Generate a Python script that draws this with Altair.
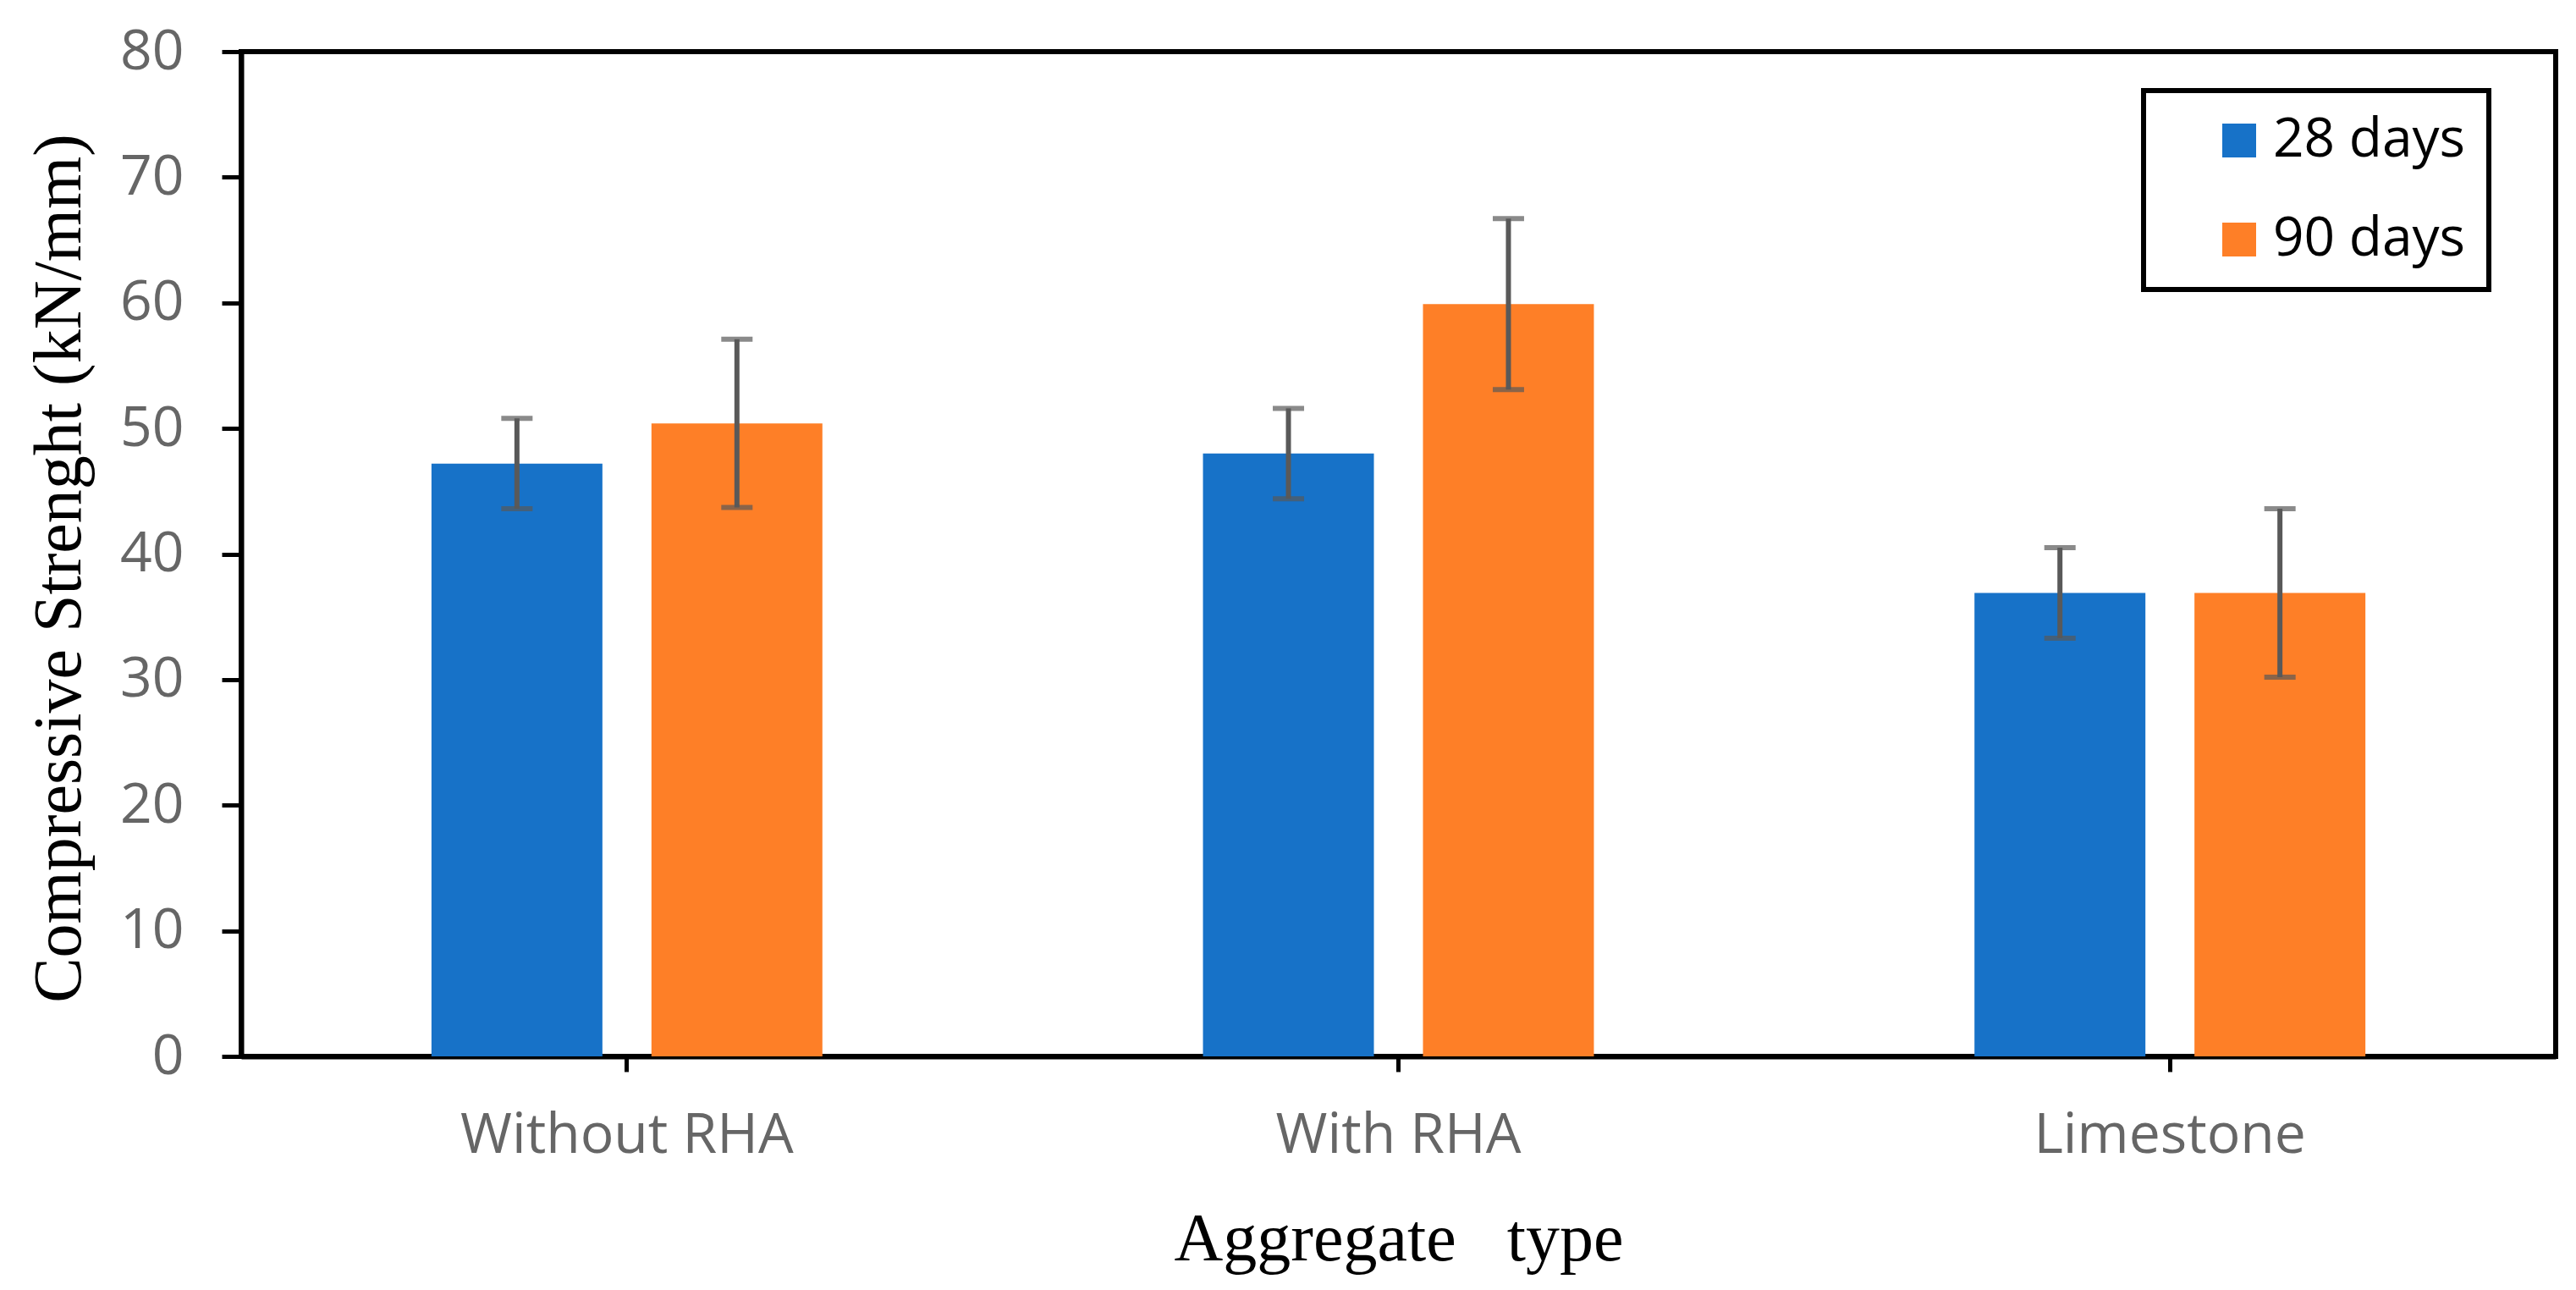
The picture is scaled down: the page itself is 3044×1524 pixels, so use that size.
import altair as alt
import pandas as pd

categories = ["Without RHA", "With RHA", "Limestone"]
series = ["28 days", "90 days"]
mean_28 = [47.2, 48.0, 36.9]
mean_90 = [50.4, 59.9, 36.9]
err_28 = [3.6, 3.6, 3.6]
err_90 = [6.7, 6.8, 6.7]
y_ticks = [0, 10, 20, 30, 40, 50, 60, 70, 80]
colors = ["#1772c8", "#fe7f27"]

rows = []
for i, c in enumerate(categories):
    rows.append({"cat": c, "series": series[0], "val": mean_28[i], "lo": mean_28[i] - err_28[i], "hi": mean_28[i] + err_28[i]})
    rows.append({"cat": c, "series": series[1], "val": mean_90[i], "lo": mean_90[i] - err_90[i], "hi": mean_90[i] + err_90[i]})
df = pd.DataFrame(rows)

LABEL_GRAY = "#666666"

x_enc = alt.X(
    "cat:N",
    sort=categories,
    scale=alt.Scale(paddingInner=0, paddingOuter=0),
    axis=alt.Axis(
        title="Aggregate\u00a0\u00a0\u00a0type",
        titleFont="Liberation Serif",
        titleFontSize=80,
        titleFontWeight="normal",
        titleColor="black",
        titleBaseline="alphabetic",
        titleY=240,
        labelFont="Open Sans",
        labelFontSize=66,
        labelColor=LABEL_GRAY,
        labelAngle=0,
        labelLimit=0,
        labelBaseline="alphabetic",
        labelPadding=95,
        domainColor="black",
        domainWidth=6,
        tickColor="black",
        tickWidth=5,
        tickSize=18,
        grid=False,
    ),
)
xoff = alt.XOffset("series:N", sort=series, scale=alt.Scale(paddingInner=0.223, paddingOuter=0.865))
y_scale = alt.Scale(domain=[0, 80], nice=False)

bars = alt.Chart(df).mark_bar().encode(
    x=x_enc,
    xOffset=xoff,
    y=alt.Y(
        "val:Q",
        scale=y_scale,
        axis=alt.Axis(
            values=y_ticks,
            title="Compressive Strenght (kN/mm)",
            titleFont="Liberation Serif",
            titleFontSize=80,
            titleFontWeight="normal",
            titleColor="black",
            titleAngle=-90,
            titleBaseline="middle",
            titleX=-215,
            titleY=610,
            labelFont="Open Sans",
            labelFontSize=66,
            labelColor=LABEL_GRAY,
            labelPadding=45,
            domainColor="black",
            domainWidth=6,
            tickColor="black",
            tickWidth=5,
            tickSize=23,
            grid=False,
        ),
    ),
    color=alt.Color(
        "series:N",
        sort=series,
        scale=alt.Scale(domain=series, range=colors),
        legend=alt.Legend(
            title=None,
            orient="none",
            legendX=2248,
            legendY=46,
            strokeColor="black",
            fillColor="white",
            padding=27,
            symbolType="square",
            symbolSize=1600,
            symbolStrokeWidth=0,
            symbolOffset=54,
            labelOffset=8,
            labelFont="Open Sans",
            labelFontSize=64,
            labelColor="black",
            labelLimit=600,
        ),
    ),
)

err_rule = alt.Chart(df).mark_rule(color="#595959", strokeWidth=6).encode(
    x=alt.X("cat:N", sort=categories),
    xOffset=xoff,
    y=alt.Y("lo:Q", scale=y_scale),
    y2="hi:Q",
)
cap_hi = alt.Chart(df).mark_tick(color="#595959", thickness=6, size=37, orient="horizontal").encode(
    x=alt.X("cat:N", sort=categories),
    xOffset=xoff,
    y=alt.Y("hi:Q", scale=y_scale),
)
cap_lo = alt.Chart(df).mark_tick(color="#595959", thickness=6, size=37, orient="horizontal").encode(
    x=alt.X("cat:N", sort=categories),
    xOffset=xoff,
    y=alt.Y("lo:Q", scale=y_scale),
)

chart = (
    alt.layer(bars, err_rule, cap_hi, cap_lo)
    .properties(
        width=2735,
        height=1187,
        background="white",
        autosize=alt.AutoSizeParams(type="none"),
        padding={"left": 277, "top": 53, "right": 16, "bottom": 268},
    )
    .configure_view(stroke="black", strokeWidth=6)
    .configure_legend(strokeWidth=6, rowPadding=53)
)

chart.save("out.html", embed_options={"renderer": "svg", "actions": False})
